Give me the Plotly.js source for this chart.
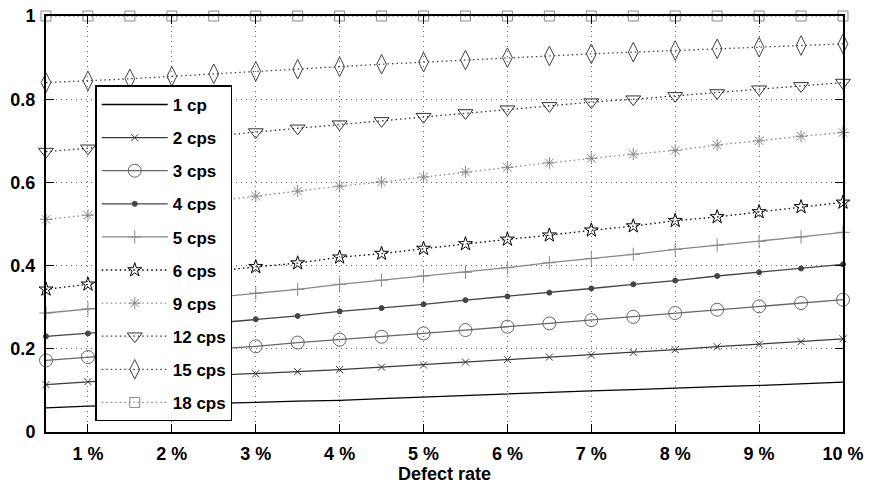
<!DOCTYPE html>
<html>
<head>
<meta charset="utf-8">
<script src="https://cdn.plot.ly/plotly-3.0.1.min.js"></script>
<style>html,body{margin:0;padding:0;background:#fff;}#chart{width:870px;height:493px;}</style>
</head>
<body>
<div id="chart"></div>
<script>
const defectRate = [0.5,1,1.5,2,2.5,3,3.5,4,4.5,5,5.5,6,6.5,7,7.5,8,8.5,9,9.5,10];
const xTickVals = [1,2,3,4,5,6,7,8,9,10];
const xTickText = ["1 %","2 %","3 %","4 %","5 %","6 %","7 %","8 %","9 %","10 %"];
const yTickVals = [0,0.2,0.4,0.6,0.8,1];
const yTickText = ["0","0.2","0.4","0.6","0.8","1"];

const seriesNames = ["1 cp","2 cps","3 cps","4 cps","5 cps","6 cps","9 cps","12 cps","15 cps","18 cps"];
const cp1  = [0.058,0.062,0.064,0.066,0.068,0.071,0.074,0.076,0.080,0.084,0.087,0.091,0.095,0.099,0.102,0.106,0.109,0.112,0.116,0.120];
const cps2 = [0.114,0.121,0.127,0.132,0.136,0.140,0.145,0.150,0.156,0.161,0.168,0.174,0.180,0.185,0.191,0.198,0.205,0.211,0.217,0.224];
const cps3 = [0.172,0.180,0.187,0.193,0.200,0.206,0.215,0.222,0.229,0.237,0.245,0.253,0.261,0.269,0.277,0.286,0.294,0.302,0.310,0.318];
const cps4 = [0.230,0.237,0.245,0.253,0.262,0.271,0.279,0.290,0.298,0.307,0.317,0.326,0.335,0.345,0.355,0.364,0.375,0.384,0.393,0.403];
const cps5 = [0.286,0.296,0.305,0.314,0.324,0.334,0.343,0.355,0.365,0.375,0.384,0.395,0.407,0.417,0.427,0.439,0.449,0.458,0.469,0.480];
const cps6 = [0.343,0.355,0.365,0.376,0.386,0.397,0.406,0.420,0.429,0.441,0.452,0.463,0.473,0.485,0.495,0.508,0.517,0.529,0.541,0.552];
const cps9 = [0.511,0.521,0.532,0.543,0.555,0.567,0.579,0.591,0.601,0.613,0.625,0.636,0.647,0.658,0.668,0.677,0.690,0.700,0.711,0.720];
const cps12 = [0.674,0.682,0.692,0.701,0.711,0.721,0.730,0.740,0.748,0.758,0.767,0.776,0.784,0.793,0.800,0.808,0.815,0.824,0.832,0.840];
const cps15 = [0.840,0.844,0.849,0.855,0.861,0.867,0.872,0.878,0.884,0.889,0.894,0.900,0.904,0.909,0.913,0.917,0.921,0.925,0.929,0.933];
const cps18 = [1,1,1,1,1,1,1,1,1,1,1,1,1,1,1,1,1,1,1,1];
const seriesValues = [cp1,cps2,cps3,cps4,cps5,cps6,cps9,cps12,cps15,cps18];

const DOT = "1.5px,3px";
const styles = [
  {color:"#000000", dash:"solid", symbol:"circle", size:0, mode:"lines"},
  {color:"#3a3a3a", dash:"solid", symbol:"x-thin-open", size:7},
  {color:"#666666", dash:"solid", symbol:"circle-open", size:13},
  {color:"#444444", dash:"solid", symbol:"circle", size:5},
  {color:"#888888", dash:"solid", symbol:"cross-thin-open", size:9.5},
  {color:"#000000", dash:DOT, symbol:"star-open", size:10.5},
  {color:"#888888", dash:DOT, symbol:"asterisk-open", size:10},
  {color:"#333333", dash:DOT, symbol:"triangle-down-open", size:13},
  {color:"#444444", dash:DOT, symbol:"diamond-tall-open", size:14},
  {color:"#888888", dash:DOT, symbol:"square-open", size:10}
];

const FONT = "Liberation Sans, Arial, Helvetica, sans-serif";

const traces = seriesNames.map((name, i) => {
  const s = styles[i];
  const t = {
    type: "scatter",
    x: defectRate,
    y: seriesValues[i],
    name: name,
    legendgroup: "g" + i,
    mode: s.mode || "lines+markers",
    cliponaxis: false,
    line: {color: s.color, width: 1.3, dash: s.dash},
  };
  if (t.mode !== "lines") {
    t.marker = {symbol: s.symbol, size: s.size, color: s.color, line: {color: s.color, width: 1}};
  }
  return t;
});

const layout = {
  width: 870, height: 493,
  margin: {l: 46, r: 27, t: 16, b: 61},
  paper_bgcolor: "#fff", plot_bgcolor: "#fff",
  showlegend: true,
  legend: {
    x: 0.0618, y: 0.833, xanchor: "left", yanchor: "top",
    bgcolor: "#fff", bordercolor: "#000", borderwidth: 1.5,
    font: {family: FONT, size: 17, color: "#000", weight: "bold"},
    traceorder: "grouped", tracegroupgap: 8, itemwidth: 66
  },
  xaxis: {
    range: [0.5, 10], tickvals: xTickVals, ticktext: xTickText,
    showline: true, linecolor: "#000", linewidth: 2, mirror: "ticks",
    ticks: "inside", ticklen: 8, tickcolor: "#000", tickwidth: 1,
    showgrid: true, gridcolor: "#666", gridwidth: 1, griddash: "1px,4px",
    zeroline: false,
    tickfont: {family: FONT, size: 18, color: "#000", weight: "bold"},
    ticklabelstandoff: 4,
    title: {text: "Defect rate", font: {family: FONT, size: 18, color: "#000", weight: "bold"}, standoff: 2}
  },
  yaxis: {
    range: [0, 1], tickvals: yTickVals, ticktext: yTickText,
    showline: true, linecolor: "#000", linewidth: 2, mirror: "ticks",
    ticks: "inside", ticklen: 8, tickcolor: "#000", tickwidth: 1,
    showgrid: true, gridcolor: "#666", gridwidth: 1, griddash: "1px,4px",
    zeroline: false,
    tickfont: {family: FONT, size: 18, color: "#000", weight: "bold"},
    ticklabelstandoff: 5
  }
};

Plotly.newPlot("chart", traces, layout, {displayModeBar: false, staticPlot: true});
</script>
</body>
</html>
